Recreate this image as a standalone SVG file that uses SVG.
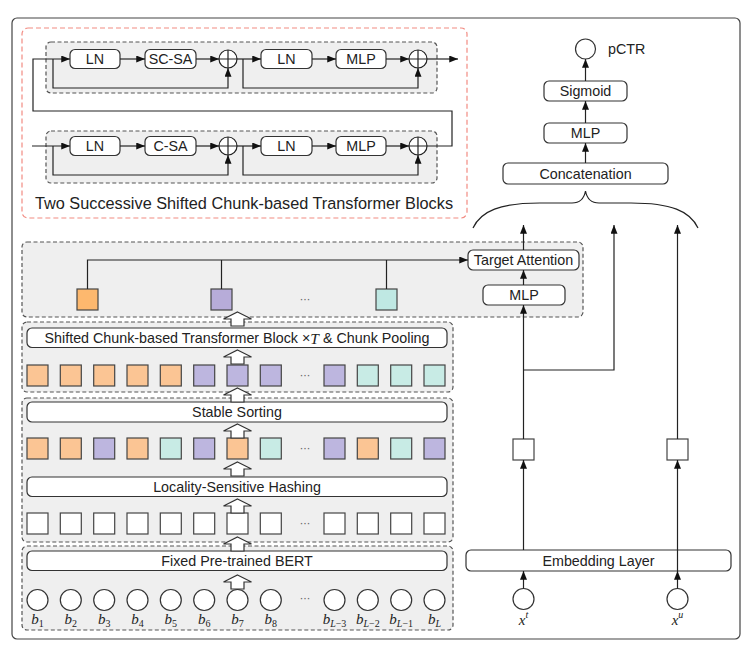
<svg xmlns="http://www.w3.org/2000/svg" xmlns:xlink="http://www.w3.org/1999/xlink" width="746" height="652" viewBox="0 0 746 652">
<style>
.box{fill:#fff;stroke:#333;stroke-width:1.2}
.grp{fill:#efefef;stroke:#555;stroke-width:1.2;stroke-dasharray:4 2.5}
.red{fill:none;stroke:#f28b82;stroke-width:1.2;stroke-dasharray:5 3}
.ln{fill:none;stroke:#222;stroke-width:1.2}
.arr{marker-end:url(#ah)}
.t{font-family:"Liberation Sans",Arial,sans-serif;font-size:14.3px;fill:#222;text-anchor:middle;dominant-baseline:central}
.m{font-family:"Liberation Serif",serif;font-style:italic;font-size:15px;fill:#222;text-anchor:middle}
.sq{stroke:#444;stroke-width:1.2}
.o{fill:#fbc594}.p{fill:#bdb6df}.c{fill:#c8ebe5}.w{fill:#fff}
.o2{fill:#fdb86e}.p2{fill:#b7acd9}.c2{fill:#bfe8e3}
.dots{font-family:"DejaVu Sans",sans-serif;font-size:11px;fill:#666;text-anchor:middle;dominant-baseline:central}
.hol{fill:#fff;stroke:#333;stroke-width:1.2}
.plus{fill:#fff;stroke:#222;stroke-width:1.2}
</style>
<defs>
<marker id="ah" viewBox="0 0 10 8" refX="10" refY="4" markerWidth="9" markerHeight="7" orient="auto" markerUnits="userSpaceOnUse"><path d="M0,0 L10,4 L0,8 z" fill="#111"/></marker>
<path id="hollow" d="M0,0 L14,7 L6.5,7 L6.5,14 L-6.5,14 L-6.5,7 L-14,7 Z"/>
<g id="plusc"><circle r="9" class="plus"/><path d="M-9,0 H9 M0,-9 V9" class="ln"/></g>
</defs>

<!-- outer frame -->
<rect x="12" y="18" width="728" height="621" rx="5" fill="#fff" stroke="#444" stroke-width="1.2"/>

<!-- transformer blocks -->
<g id="transformer-blocks">
<rect x="22" y="28" width="445" height="190" rx="6" class="red"/>
<rect x="46" y="42" width="391" height="51" rx="5" class="grp"/>
<rect x="46" y="131" width="391" height="52" rx="5" class="grp"/>
<text x="244" y="203" class="t" style="font-size:16.3px">Two Successive Shifted Chunk-based Transformer Blocks</text>
</g>
<g id="u-ln1"><rect x="70" y="49.5" width="50" height="19" rx="5" class="box"/><text x="95" y="59" class="t">LN</text></g>
<g id="u-scsa"><rect x="145" y="49.5" width="51" height="19" rx="5" class="box"/><text x="170.5" y="59" class="t">SC-SA</text></g>
<g id="u-add1"><use href="#plusc" x="228" y="59"/></g>
<g id="u-ln2"><rect x="261" y="49.5" width="51" height="19" rx="5" class="box"/><text x="286.5" y="59" class="t">LN</text></g>
<g id="u-mlp"><rect x="336" y="49.5" width="50" height="19" rx="5" class="box"/><text x="361" y="59" class="t">MLP</text></g>
<g id="u-add2"><use href="#plusc" x="418" y="59"/></g>
<g id="l-ln1"><rect x="70" y="136.5" width="50" height="19" rx="5" class="box"/><text x="95" y="146" class="t">LN</text></g>
<g id="l-csa"><rect x="145" y="136.5" width="51" height="19" rx="5" class="box"/><text x="170.5" y="146" class="t">C-SA</text></g>
<g id="l-add1"><use href="#plusc" x="228" y="146"/></g>
<g id="l-ln2"><rect x="261" y="136.5" width="51" height="19" rx="5" class="box"/><text x="286.5" y="146" class="t">LN</text></g>
<g id="l-mlp"><rect x="336" y="136.5" width="50" height="19" rx="5" class="box"/><text x="361" y="146" class="t">MLP</text></g>
<g id="l-add2"><use href="#plusc" x="418" y="146"/></g>

<!-- top right stack -->
<g id="pctr"><circle cx="585.5" cy="49" r="10" class="box"/><text x="608" y="49" class="t" style="text-anchor:start">pCTR</text></g>
<g id="sigmoid"><rect x="544" y="81" width="83" height="20" rx="5" class="box"/><text x="585.5" y="91" class="t">Sigmoid</text></g>
<g id="mlp-top"><rect x="544" y="123" width="83" height="20" rx="5" class="box"/><text x="585.5" y="133" class="t">MLP</text></g>
<g id="concat"><rect x="503" y="163" width="165" height="21" rx="5" class="box"/><text x="585.5" y="173.5" class="t">Concatenation</text></g>
<g id="brace"><path class="ln" d="M473,228 C481,211 500,203 540,203 L572,203 C580,203 584,199 585.5,191 C587,199 591,203 599,203 L631,203 C671,203 690,211 698,228"/></g>

<!-- target attention group -->
<g id="target-group">
<rect x="22" y="242" width="561" height="75" rx="5" class="grp"/>
<text x="305" y="299.5" class="dots">···</text>
</g>
<g id="target-attention"><rect x="468" y="250" width="111" height="20" rx="5" class="box"/><text x="523.5" y="260" class="t">Target Attention</text></g>
<g id="mlp-mid"><rect x="483" y="285" width="82" height="20" rx="5" class="box"/><text x="524" y="295" class="t">MLP</text></g>
<g id="pool-o"><rect x="77" y="289" width="21" height="21" class="sq o2"/></g>
<g id="pool-p"><rect x="211" y="289" width="21" height="21" class="sq p2"/></g>
<g id="pool-c"><rect x="376" y="289" width="21" height="21" class="sq c2"/></g>

<!-- group 1 -->
<g id="group1">
<rect x="22" y="322" width="431" height="70" rx="5" class="grp"/>
<rect x="27" y="328" width="420" height="19.5" rx="5" class="box"/>
<text x="237" y="338" class="t">Shifted Chunk-based Transformer Block <tspan>×</tspan><tspan style="font-family:'Liberation Serif',serif;font-style:italic;font-size:15.5px">T</tspan> &amp; Chunk Pooling</text>
<g id="row1">
<rect x="27" y="365" width="21" height="21" class="sq o"/>
<rect x="60.3" y="365" width="21" height="21" class="sq o"/>
<rect x="93.7" y="365" width="21" height="21" class="sq o"/>
<rect x="127" y="365" width="21" height="21" class="sq o"/>
<rect x="160.3" y="365" width="21" height="21" class="sq o"/>
<rect x="193.7" y="365" width="21" height="21" class="sq p"/>
<rect x="227" y="365" width="21" height="21" class="sq p"/>
<rect x="260.3" y="365" width="21" height="21" class="sq p"/>
<text x="305" y="375.5" class="dots">···</text>
<rect x="324" y="365" width="21" height="21" class="sq p"/>
<rect x="357.3" y="365" width="21" height="21" class="sq c"/>
<rect x="390.7" y="365" width="21" height="21" class="sq c"/>
<rect x="424" y="365" width="21" height="21" class="sq c"/>
</g>
</g>

<!-- group 2 -->
<g id="group2">
<rect x="22" y="398" width="431" height="144" rx="5" class="grp"/>
<rect x="27" y="402" width="420" height="20" rx="5" class="box"/>
<text x="237" y="412" class="t">Stable Sorting</text>
<g id="row2">
<rect x="27" y="438" width="21" height="21" class="sq o"/>
<rect x="60.3" y="438" width="21" height="21" class="sq o"/>
<rect x="93.7" y="438" width="21" height="21" class="sq p"/>
<rect x="127" y="438" width="21" height="21" class="sq o"/>
<rect x="160.3" y="438" width="21" height="21" class="sq c"/>
<rect x="193.7" y="438" width="21" height="21" class="sq p"/>
<rect x="227" y="438" width="21" height="21" class="sq o"/>
<rect x="260.3" y="438" width="21" height="21" class="sq c"/>
<text x="305" y="448.5" class="dots">···</text>
<rect x="324" y="438" width="21" height="21" class="sq p"/>
<rect x="357.3" y="438" width="21" height="21" class="sq o"/>
<rect x="390.7" y="438" width="21" height="21" class="sq c"/>
<rect x="424" y="438" width="21" height="21" class="sq p"/>
</g>
<rect x="27" y="477" width="420" height="19.5" rx="5" class="box"/>
<text x="237" y="486.5" class="t">Locality-Sensitive Hashing</text>
<g id="row3">
<rect x="27" y="513" width="21" height="21" class="sq w"/>
<rect x="60.3" y="513" width="21" height="21" class="sq w"/>
<rect x="93.7" y="513" width="21" height="21" class="sq w"/>
<rect x="127" y="513" width="21" height="21" class="sq w"/>
<rect x="160.3" y="513" width="21" height="21" class="sq w"/>
<rect x="193.7" y="513" width="21" height="21" class="sq w"/>
<rect x="227" y="513" width="21" height="21" class="sq w"/>
<rect x="260.3" y="513" width="21" height="21" class="sq w"/>
<text x="305" y="523.5" class="dots">···</text>
<rect x="324" y="513" width="21" height="21" class="sq w"/>
<rect x="357.3" y="513" width="21" height="21" class="sq w"/>
<rect x="390.7" y="513" width="21" height="21" class="sq w"/>
<rect x="424" y="513" width="21" height="21" class="sq w"/>
</g>
</g>

<!-- group 3 -->
<g id="group3">
<rect x="22" y="546" width="431" height="84" rx="5" class="grp"/>
<rect x="27" y="551" width="420" height="19.5" rx="5" class="box"/>
<text x="237" y="560.5" class="t">Fixed Pre-trained BERT</text>
<g id="behaviors" fill="#fff" stroke="#333" stroke-width="1.2">
<circle cx="37.5" cy="600" r="10.5"/><circle cx="70.8" cy="600" r="10.5"/><circle cx="104.2" cy="600" r="10.5"/><circle cx="137.5" cy="600" r="10.5"/>
<circle cx="170.8" cy="600" r="10.5"/><circle cx="204.2" cy="600" r="10.5"/><circle cx="237.5" cy="600" r="10.5"/><circle cx="270.8" cy="600" r="10.5"/>
<circle cx="334.5" cy="600" r="10.5"/><circle cx="367.8" cy="600" r="10.5"/><circle cx="401.2" cy="600" r="10.5"/><circle cx="434.5" cy="600" r="10.5"/>
</g>
<text x="305" y="598" class="dots">···</text>
<text x="37.5" y="624" class="m">b<tspan dy="3" font-size="10" font-style="normal">1</tspan></text>
<text x="70.8" y="624" class="m">b<tspan dy="3" font-size="10" font-style="normal">2</tspan></text>
<text x="104.2" y="624" class="m">b<tspan dy="3" font-size="10" font-style="normal">3</tspan></text>
<text x="137.5" y="624" class="m">b<tspan dy="3" font-size="10" font-style="normal">4</tspan></text>
<text x="170.8" y="624" class="m">b<tspan dy="3" font-size="10" font-style="normal">5</tspan></text>
<text x="204.2" y="624" class="m">b<tspan dy="3" font-size="10" font-style="normal">6</tspan></text>
<text x="237.5" y="624" class="m">b<tspan dy="3" font-size="10" font-style="normal">7</tspan></text>
<text x="270.8" y="624" class="m">b<tspan dy="3" font-size="10" font-style="normal">8</tspan></text>
<text x="334.5" y="624" class="m">b<tspan dy="3" font-size="10">L</tspan><tspan font-size="10" font-style="normal">−3</tspan></text>
<text x="367.8" y="624" class="m">b<tspan dy="3" font-size="10">L</tspan><tspan font-size="10" font-style="normal">−2</tspan></text>
<text x="401.2" y="624" class="m">b<tspan dy="3" font-size="10">L</tspan><tspan font-size="10" font-style="normal">−1</tspan></text>
<text x="434.5" y="624" class="m">b<tspan dy="3" font-size="10">L</tspan></text>
</g>

<!-- right side nodes -->
<g id="emb-t"><rect x="513" y="439" width="21" height="21" class="sq w"/></g>
<g id="emb-u"><rect x="667" y="439" width="21" height="21" class="sq w"/></g>
<g id="embedding"><rect x="466" y="550" width="265" height="21" rx="5" class="box"/><text x="598.5" y="560.5" class="t">Embedding Layer</text></g>
<g id="xt"><circle cx="523.5" cy="599" r="10.5" class="box"/><text x="523.5" y="625" class="m">x<tspan dy="-7" font-size="10">t</tspan></text></g>
<g id="xu"><circle cx="677.5" cy="599" r="10.5" class="box"/><text x="677.5" y="625" class="m">x<tspan dy="-7" font-size="10">u</tspan></text></g>

<!-- hollow arrows -->
<g id="hollow-arrows" class="hol">
<use href="#hollow" x="237.5" y="312"/>
<use href="#hollow" x="237.5" y="350"/>
<use href="#hollow" x="237.5" y="388"/>
<use href="#hollow" x="237.5" y="424"/>
<use href="#hollow" x="237.5" y="462"/>
<use href="#hollow" x="237.5" y="499"/>
<use href="#hollow" x="237.5" y="537"/>
<use href="#hollow" x="237.5" y="575"/>
</g>

<!-- connectors -->
<g id="connectors" class="ln">
<path class="arr" d="M32,146 H70"/>
<path class="arr" d="M53,146 V175 H228 V155"/>
<path class="arr" d="M120,146 H145"/>
<path class="arr" d="M196,146 H219"/>
<path class="arr" d="M237,146 H261"/>
<path class="arr" d="M243,146 V175 H418 V155"/>
<path class="arr" d="M312,146 H336"/>
<path class="arr" d="M386,146 H409"/>
<path class="arr" d="M427,146 H452 V111 H33 V59 H70"/>
<path class="arr" d="M53,59 V88 H228 V68"/>
<path class="arr" d="M120,59 H145"/>
<path class="arr" d="M196,59 H219"/>
<path class="arr" d="M237,59 H261"/>
<path class="arr" d="M243,59 V88 H418 V68"/>
<path class="arr" d="M312,59 H336"/>
<path class="arr" d="M386,59 H409"/>
<path class="arr" d="M427,59 H458"/>
<path class="arr" d="M585.5,163 V143"/>
<path class="arr" d="M585.5,123 V101"/>
<path class="arr" d="M585.5,81 V59"/>
<path class="arr" d="M87.5,289 V260 H468"/>
<path d="M221.5,289 V260"/>
<path d="M386.5,289 V260"/>
<path class="arr" d="M523.5,285 V270"/>
<path class="arr" d="M523.5,250 V225"/>
<path class="arr" d="M523.5,439 V305"/>
<path class="arr" d="M523.5,370 H614 V225"/>
<path class="arr" d="M677.5,439 V225"/>
<path class="arr" d="M523.5,550 V460"/>
<path class="arr" d="M523.5,588.5 V571"/>
<path class="arr" d="M677.5,588.5 V571"/>
<path class="arr" d="M677.5,571 V460"/>
</g>
</svg>
